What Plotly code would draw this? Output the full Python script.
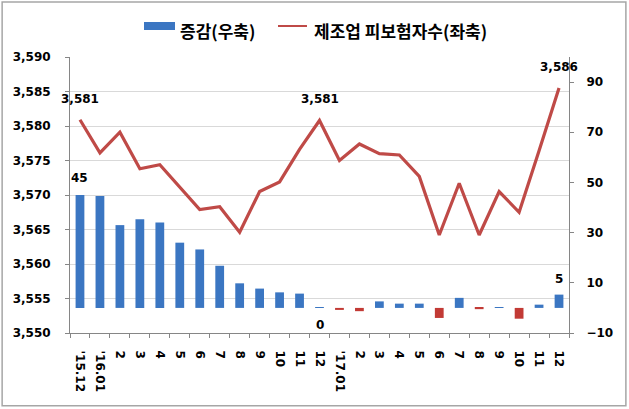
import plotly.graph_objects as go

labels = ["'15.12", "'16.01", "2", "3", "4", "5", "6", "7", "8", "9", "10", "11", "12",
          "'17.01", "2", "3", "4", "5", "6", "7", "8", "9", "10", "11", "12"]
insured = [3580.9, 3576.1, 3579.1, 3573.8, 3574.4, 3571.2, 3567.9, 3568.3, 3564.6, 3570.5,
           3571.9, 3576.6, 3580.8, 3575.0, 3577.4, 3576.0, 3575.8, 3572.7, 3564.2, 3571.7,
           3564.2, 3570.5, 3567.5, 3576.4, 3585.5]
change = [45.0, 44.6, 33.0, 35.3, 34.0, 26.0, 23.3, 16.8, 9.8, 7.7, 6.2, 5.7, 0.3,
          -0.8, -1.3, 2.6, 1.7, 1.7, -4.0, 4.0, -0.5, 0.3, -4.3, 1.3, 5.3]
series_names = ["증감(우축)", "제조업 피보험자수(좌축)"]

left_ticks = [3550, 3555, 3560, 3565, 3570, 3575, 3580, 3585, 3590]
right_ticks = [-10, 10, 30, 50, 70, 90]

BLUE = "#3B76C2"
RED_BAR = "#C23A35"
LINE = "#BF4A47"
FONT = "DejaVu Sans"
KFONT = "Noto Sans CJK KR"

x = list(range(len(labels)))
bar_colors = [BLUE if v >= 0 else RED_BAR for v in change]

fig = go.Figure()
fig.add_trace(go.Bar(
    x=x, y=change, yaxis="y2", name=series_names[0],
    marker=dict(color=bar_colors, line=dict(width=0)), width=0.44,
))
fig.add_trace(go.Scatter(
    x=x, y=insured, mode="lines", name=series_names[1],
    line=dict(color=LINE, width=3.2),
))

bold = dict(family=FONT, size=12, color="#000", weight="bold")
annots = []
for i in (0, 12, len(insured) - 1):
    annots.append(dict(x=x[i], y=insured[i], xref="x", yref="y",
                       text=f"{round(insured[i]):,}", showarrow=False, yshift=21, font=bold))
for i, shift in ((0, 17), (12, -18), (len(change) - 1, 16)):
    annots.append(dict(x=x[i], y=change[i], xref="x", yref="y2",
                       text=f"{round(change[i]):,}", showarrow=False, yshift=shift, font=bold))

# manual legend (paper coordinates)
leg_font = dict(family=KFONT, size=17, color="#000", weight="bold")
annots.append(dict(x=0.2164, y=1.0978, xref="paper", yref="paper", xanchor="left",
                   yanchor="middle", text=series_names[0], showarrow=False, font=leg_font))
annots.append(dict(x=0.485, y=1.0978, xref="paper", yref="paper", xanchor="left",
                   yanchor="middle", text=series_names[1], showarrow=False, font=leg_font))
shapes = [
    dict(type="rect", xref="paper", yref="paper", x0=-0.136, x1=1.114, y0=-0.264, y1=1.199,
         line=dict(color="#A6A6A6", width=1.5), layer="below"),
    dict(type="rect", xref="paper", yref="paper", x0=0.1483, x1=0.2104, y0=1.0978, y1=1.1268,
         fillcolor=BLUE, line=dict(width=0)),
    dict(type="line", xref="paper", yref="paper", x0=0.4168, x1=0.4749, y0=1.1123, y1=1.1123,
         line=dict(color=LINE, width=2)),
]

fig.update_layout(
    width=629, height=409,
    margin=dict(l=70, r=60, t=57, b=76, autoexpand=False),
    paper_bgcolor="white", plot_bgcolor="white",
    font=dict(family=FONT, size=12, color="#000"),
    showlegend=False,
    xaxis=dict(
        range=[-0.5, len(labels) - 0.5], tickvals=x, ticktext=labels, tickangle=90,
        ticks="", showgrid=False, zeroline=False, automargin=False,
        showline=True, linecolor="#868686", linewidth=1,
        tickfont=bold, ticklabelstandoff=14,
        minor=dict(tick0=-0.5, dtick=1, ticks="outside", ticklen=4, tickcolor="#868686"),
    ),
    yaxis=dict(
        range=[left_ticks[0], left_ticks[-1]], tickvals=left_ticks,
        ticktext=[f"{v:,}" for v in left_ticks], automargin=False,
        showgrid=True, gridcolor="#D9D9D9", gridwidth=1, zeroline=False,
        showline=True, linecolor="#868686", linewidth=1,
        ticks="outside", ticklen=4, tickcolor="#868686",
        tickfont=bold, ticklabelstandoff=12,
    ),
    yaxis2=dict(
        range=[-10, 100], tickvals=right_ticks, overlaying="y", side="right",
        showgrid=False, zeroline=False, automargin=False,
        showline=True, linecolor="#868686", linewidth=1,
        ticks="outside", ticklen=4, tickcolor="#868686",
        tickfont=bold, ticklabelstandoff=10,
    ),
    annotations=annots,
    shapes=shapes,
)

fig.write_html("out.html", config={"displayModeBar": False},
               post_script="document.body.style.margin='0';")
